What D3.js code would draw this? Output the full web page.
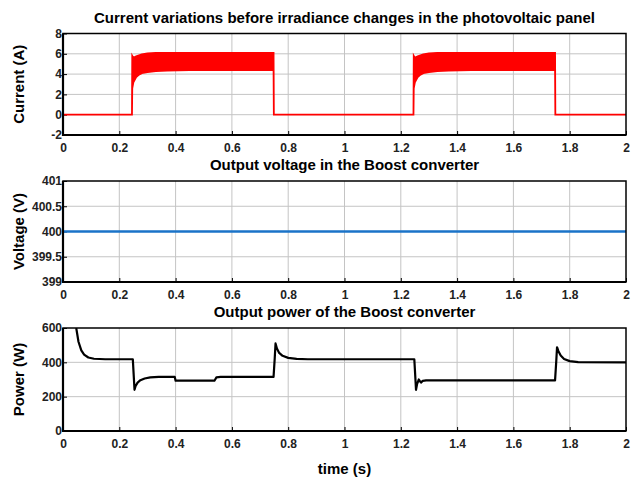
<!DOCTYPE html>
<html><head><meta charset="utf-8">
<script src="https://cdn.jsdelivr.net/npm/d3@7"></script>
<style>
html,body{margin:0;padding:0;background:#fff;}
svg{display:block;font-family:"Liberation Sans",Arial,sans-serif;}
</style></head>
<body><svg id="chart" width="631" height="479"></svg>
<script>
// ---- data ----
const timeTicks = [0, 0.2, 0.4, 0.6, 0.8, 1, 1.2, 1.4, 1.6, 1.8, 2];
const currentTicks = [-2, 0, 2, 4, 6, 8];
const voltageTicks = [399, 399.5, 400, 400.5, 401];
const powerTicks = [0, 200, 400, 600];

const titles = [
  "Current variations before irradiance changes in the photovoltaic panel",
  "Output voltage in the Boost converter",
  "Output power of the Boost converter"
];
const yLabels = ["Current (A)", "Voltage (V)", "Power (W)"];
const xLabel = "time (s)";

// PV current: ripple band envelope (upper / lower), A
const currentTime  = [0, 0.245, 0.246, 0.25, 0.26, 0.27, 0.28, 0.30, 0.33, 0.37, 0.45, 0.748, 0.749,
                      1.245, 1.246, 1.25, 1.26, 1.27, 1.28, 1.30, 1.33, 1.37, 1.45, 1.748, 1.749, 2];
const currentUpper = [0, 0, 5.8, 5.6, 5.75, 5.85, 5.95, 6.05, 6.1, 6.1, 6.1, 6.1, 0,
                      0, 5.8, 5.6, 5.75, 5.85, 5.95, 6.05, 6.1, 6.1, 6.1, 6.1, 0, 0];
const currentLower = [0, 0, 2.6, 3.2, 3.7, 3.95, 4.1, 4.2, 4.3, 4.35, 4.4, 4.4, 0,
                      0, 2.6, 3.2, 3.7, 3.95, 4.1, 4.2, 4.3, 4.35, 4.4, 4.4, 0, 0];

// Boost output voltage, V
const voltageTime = [0, 2];
const voltageValues = [400, 400];

// Boost output power, W
const powerTime = [0.047, 0.055, 0.065, 0.075, 0.09, 0.11, 0.15, 0.248, 0.251, 0.254, 0.258, 0.265, 0.275,
  0.29, 0.31, 0.34, 0.397, 0.4, 0.538, 0.545, 0.56, 0.748, 0.752, 0.755, 0.76, 0.768, 0.78, 0.8, 0.83,
  0.87, 1.248, 1.251, 1.254, 1.258, 1.264, 1.268, 1.272, 1.278, 1.29, 1.748, 1.752, 1.755, 1.76, 1.768,
  1.78, 1.8, 1.83, 2];
const powerValues = [600, 520, 470, 445, 428, 421, 418, 418, 330, 240, 262, 282, 296,
  306, 312, 315, 315, 293, 293, 312, 315, 315, 420, 510, 480, 455, 438, 426, 420,
  418, 418, 330, 240, 275, 300, 290, 282, 292, 295, 295, 400, 488, 465, 440,
  420, 407, 401, 400];

// ---- layout ----
const svg = d3.select("#chart");
const L = 63, R = 626;
const panels = [
  {top: 33.5, bottom: 135, domain: [-2, 8], ticks: currentTicks},
  {top: 181, bottom: 282, domain: [399, 401], ticks: voltageTicks},
  {top: 328, bottom: 431, domain: [0, 600], ticks: powerTicks}
];
const x = d3.scaleLinear().domain([0, 2]).range([L, R]);
const fmt = d => String(d);

panels.forEach((p, i) => {
  const y = d3.scaleLinear().domain(p.domain).range([p.bottom, p.top]);
  p.y = y;
  const g = svg.append("g");
  // grid
  g.append("g").selectAll("line").data(timeTicks.slice(1, -1)).join("line")
    .attr("x1", d => x(d)).attr("x2", d => x(d)).attr("y1", p.top).attr("y2", p.bottom)
    .attr("stroke", "#c4c4c4").attr("stroke-width", 1);
  g.append("g").selectAll("line").data(p.ticks.slice(1, -1)).join("line")
    .attr("x1", L).attr("x2", R).attr("y1", d => y(d)).attr("y2", d => y(d))
    .attr("stroke", "#c4c4c4").attr("stroke-width", 1);

  // axes (inward ticks)
  const xa = g.append("g").attr("transform", `translate(0,${p.bottom})`)
    .call(d3.axisBottom(x).tickValues(timeTicks).tickFormat(fmt).tickSize(-4).tickPadding(6));
  const ya = g.append("g").attr("transform", `translate(${L},0)`)
    .call(d3.axisLeft(y).tickValues(p.ticks).tickFormat(fmt).tickSize(-4).tickPadding(1));
  [xa, ya].forEach(a => {
    a.select(".domain").remove();
    a.selectAll(".tick line").attr("stroke", "#000").attr("stroke-width", 1);
    a.selectAll(".tick text").attr("fill", "#222").attr("font-size", 12)
      .attr("font-weight", "bold").attr("font-family", "Liberation Sans, Arial, sans-serif");
  });
  xa.selectAll(".tick text").attr("dy", "0.71em").attr("y", 8);

  // title
  svg.append("text").attr("x", (L + R) / 2).attr("y", p.top - 11)
    .attr("text-anchor", "middle").attr("font-size", 15).attr("font-weight", "bold")
    .attr("fill", "#000").text(titles[i]);
  // y label
  svg.append("text")
    .attr("transform", `translate(24,${(p.top + p.bottom) / 2}) rotate(-90)`)
    .attr("text-anchor", "middle").attr("font-size", 15).attr("font-weight", "bold")
    .attr("fill", "#000").text(yLabels[i]);

  // clip
  svg.append("clipPath").attr("id", "clip" + i).append("rect")
    .attr("x", L).attr("y", p.top).attr("width", R - L).attr("height", p.bottom - p.top);
  p.plot = svg.append("g").attr("clip-path", `url(#clip${i})`);
});

// current band
{
  const p = panels[0];
  const data = currentTime.map((t, i) => ({t, hi: currentUpper[i], lo: currentLower[i]}));
  p.plot.append("path").datum(data)
    .attr("d", d3.area().x(d => x(d.t)).y0(d => p.y(d.lo)).y1(d => p.y(d.hi)))
    .attr("fill", "#ff0000").attr("stroke", "#ff0000").attr("stroke-width", 1.8)
    .attr("stroke-linejoin", "miter");
}
// voltage
{
  const p = panels[1];
  const data = voltageTime.map((t, i) => ({t, v: voltageValues[i]}));
  p.plot.append("path").datum(data)
    .attr("d", d3.line().x(d => x(d.t)).y(d => p.y(d.v)))
    .attr("fill", "none").attr("stroke", "#1a73c8").attr("stroke-width", 2.5);
}
// power
{
  const p = panels[2];
  const data = powerTime.map((t, i) => ({t, v: powerValues[i]}));
  p.plot.append("path").datum(data)
    .attr("d", d3.line().x(d => x(d.t)).y(d => p.y(d.v)))
    .attr("fill", "none").attr("stroke", "#000").attr("stroke-width", 2.2)
    .attr("stroke-linejoin", "round");
}

// boxes
panels.forEach(p => {
  svg.append("rect").attr("x", L).attr("y", p.top).attr("width", R - L).attr("height", p.bottom - p.top)
    .attr("fill", "none").attr("stroke", "#000").attr("stroke-width", 1.5);
  svg.append("path").attr("d", `M${L},${p.top}V${p.bottom}H${R}`)
    .attr("fill", "none").attr("stroke", "#000").attr("stroke-width", 2.2);
});

// x label
svg.append("text").attr("x", (L + R) / 2).attr("y", 474).attr("text-anchor", "middle")
  .attr("font-size", 15).attr("font-weight", "bold").attr("fill", "#000").text(xLabel);
</script>
</body></html>
